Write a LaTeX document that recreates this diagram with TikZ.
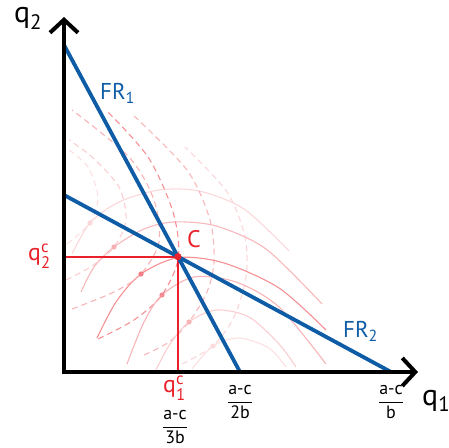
\documentclass[tikz,border=0pt]{standalone}
\usepackage{amsmath}
\usepackage{fontspec}
\setmainfont{PT Sans}
\usetikzlibrary{arrows.meta}

\definecolor{frblue}{RGB}{14,92,165}
\definecolor{cred}{RGB}{234,32,42}

\tikzset{
  axisline/.style={line width=4bp, line join=miter, >={Straight Barb[length=13bp,width=28bp,sharp]}, <->},
  frline/.style={line width=3.8bp, frblue},
  cline/.style={line width=2.2bp, cred},
  isosolid/.style={line width=1.1bp},
  isodash/.style={line width=1.1bp, dash pattern=on 6bp off 4bp},
  axlab/.style={inner sep=0pt, font=\fontsize{30}{32}\selectfont},
  frlab/.style={inner sep=0pt, frblue, font=\fontsize{23}{25}\selectfont},
  redlab/.style={inner sep=0pt, cred, font=\fontsize{24}{26}\selectfont},
  fraclab/.style={inner sep=0pt, font=\fontsize{18}{20}\selectfont},
}

% isoprofit curves of firm 1 (firm 2: mirrored in the diagonal)
\newcommand{\isoa}{plot[smooth] coordinates {(8,118) (26,149) (55,170) (95,182) (135,181) (180,163) (225,121)}}
\newcommand{\isob}{plot[smooth] coordinates {(17,80) (30,105) (50,125) (80,143) (110,150) (152,146) (202,123) (258,68)}}
\newcommand{\isoc}{plot[smooth] coordinates {(33,34) (52,70) (77,98) (114.4,114.4) (160,109) (215,84) (262,42)}}
\newcommand{\isod}{plot[smooth] coordinates {(63,8) (80,50) (98,77) (130,95) (172,90) (215,65) (262,8)}}
\newcommand{\isoe}{plot[smooth] coordinates {(92,2) (106,28) (125,50) (152,62) (185,55) (215,28) (232,5)}}
\newcommand{\isof}{plot[smooth] coordinates {(128,3) (149,26) (175,34) (205,24) (222,5)}}

\begin{document}
\begin{tikzpicture}[x=1bp,y=1bp]
\useasboundingbox (-64,-76) rectangle (385,372);

\coordinate (O) at (0,0);
\coordinate (ytip) at (0,355);
\coordinate (xtip) at (354,0);
\coordinate (fr1a) at (0,327);
\coordinate (fr1b) at (176,0);
\coordinate (fr2a) at (0,177);
\coordinate (fr2b) at (327,0);
\coordinate (C) at (intersection of fr1a--fr1b and fr2a--fr2b);

% isoprofit curves
\foreach \crv/\shade in {\isoa/18,\isob/32,\isoc/50,\isod/34,\isoe/22,\isof/14}{
  \draw[isosolid, cred!\shade] \crv;
  \draw[isodash, cred!\shade, cm={0,1,1,0,(0,0)}] \crv;
}
\foreach \x/\y/\shade in {26/149/18, 50/125/36, 77/98/58, 98/77/52, 125/50/34, 149/26/16}
  \fill[cred!\shade] (\x,\y) circle (2.6bp);

\draw[cline] (O |- C) -- (C) -- (C |- O);
\draw[frline] (fr1a) -- (fr1b);
\draw[frline] (fr2a) -- (fr2b);
\draw[axisline] (ytip) -- (O) -- (xtip);
\fill[cred] (C) circle (3.6bp);

\node[axlab, anchor=base] (q2lab) at (-36,349) {q$_{\text{2}}$};
\node[axlab, anchor=base west] (q1lab) at (358,-33) {q$_{\text{1}}$};
\node[frlab, anchor=base west] (fr1lab) at (36,272) {FR$_{\text{1}}$};
\node[frlab, anchor=base west] (fr2lab) at (279,34) {FR$_{\text{2}}$};
\node[redlab, anchor=base west] (clab) at (123,124) {C};
\node[redlab, anchor=base west] (q2clab) at (-36,111) {q$^{\text{c}}_{\text{2}}$};
\node[redlab, anchor=base west] (q1clab) at (99,-21) {q$^{\text{c}}_{\text{1}}$};
\node[fraclab] (f3b) at (111,-55) {$\dfrac{\text{a-c}}{\text{3b}}$};
\node[fraclab] (f2b) at (fr1b |- 0,-30) {$\dfrac{\text{a-c}}{\text{2b}}$};
\node[fraclab] (fb) at (fr2b |- 0,-30) {$\dfrac{\text{a-c}}{\text{b}}$};
\end{tikzpicture}
\end{document}
